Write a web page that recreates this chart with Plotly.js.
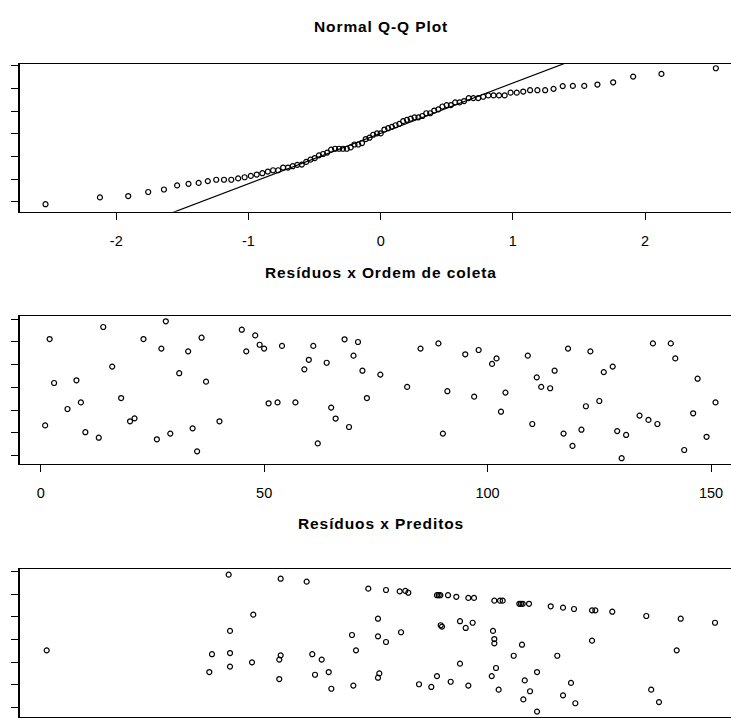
<!DOCTYPE html>
<html><head><meta charset="utf-8">
<script src="https://cdn.plot.ly/plotly-3.0.1.min.js"></script>
<style>
html,body{margin:0;padding:0;overflow:hidden;background:#fff;width:731px;height:718px}
#plot{width:760px;height:760px;position:absolute;left:0;top:0}
.annotation-text{letter-spacing:0.9px}
</style>
</head><body><div id="plot"></div><script>
// ---- data ----
const ordem = [1,2,3,6,8,9,10,13,14,16,18,20,21,23,26,27,28,29,31,33,34,35,36,37,40,45,46,48,49,50,51,53,54,57,59,60,61,62,64,65,66,68,69,70,71,72,73,76,82,85,89,90,91,95,97,98,101,102,103,104,109,110,111,112,114,115,117,118,119,121,122,123,125,126,128,129,130,131,134,136,137,138,141,142,144,146,147,149,151];
const residuos = [-1.67,2.12,0.19,-0.95,0.31,-0.66,-1.97,-2.21,2.65,0.91,-0.47,-1.49,-1.36,2.12,-2.28,1.70,2.90,-2.03,0.62,1.58,-1.80,-2.81,2.18,0.25,-1.49,2.53,1.58,2.28,1.87,1.70,-0.70,-0.66,1.82,-0.66,0.79,1.21,1.82,-2.46,1.08,-0.89,-1.37,2.11,-1.74,1.39,1.99,0.73,-0.47,0.56,0.02,1.70,1.93,-2.03,-0.17,1.45,-0.41,1.64,1.03,1.27,-1.07,-0.23,1.39,-1.61,0.44,0.02,-0.04,0.73,-2.03,1.70,-2.57,-1.86,-0.83,1.58,-0.60,0.67,0.91,-1.92,-3.11,-2.09,-1.24,-1.43,1.93,-1.61,1.93,1.27,-2.75,-1.14,0.38,-2.17,-0.66];
const preditos = [0.0,27.23,27.43,24.73,27.43,27.43,24.33,30.72,30.91,34.80,35.01,34.80,35.01,38.90,39.74,40.15,41.15,42.20,42.59,45.68,46.28,45.88,48.12,49.57,49.57,49.77,49.57,50.77,50.77,52.82,53.66,54.11,53.02,55.71,57.55,58.40,58.66,58.90,60.05,61.29,58.96,59.15,58.40,60.45,61.84,62.70,63.74,63.09,63.94,61.84,63.09,66.59,66.98,67.83,68.23,70.72,70.97,71.22,72.17,75.42,77.26,78.90,81.60,82.09,84.63,89.72,94.87,100.0,66.78,66.98,66.98,71.12,81.60,69.88,76.40,94.27,67.23,73.37,71.53,78.45,67.63,72.32,77.26,71.32,79.10,73.37,90.45,91.62];
const residuosPreditos = [-0.48,2.87,0.38,-0.65,-0.60,-1.20,-1.44,-1.01,1.10,-0.89,-0.70,-1.75,2.69,2.56,-0.65,-1.56,-0.89,-1.44,-2.18,0.20,-0.48,-2.04,2.25,0.92,0.14,-1.50,-1.69,2.19,-0.11,2.13,2.15,2.07,0.32,-1.98,-2.10,1.96,1.96,1.96,1.96,1.89,0.63,0.57,-1.62,-1.87,0.81,0.51,0.74,1.84,1.84,-1.07,-2.04,-1.62,1.72,1.72,1.72,1.58,1.58,1.58,1.58,1.47,1.41,1.35,1.29,1.29,1.23,1.04,0.92,0.74,0.38,0.02,-0.17,-0.23,-0.05,-0.72,-0.72,-0.48,-1.26,-1.44,-1.81,-1.92,-2.22,-2.29,-2.47,-2.65,-2.82,-3.19,-2.22,-2.77];
const qqLineIntercept = 0.02;
const qqLineSlope = 2.225;
const qqTickVals = [-2,-1,0,1,2];
const qqTickText = ["-2","-1","0","1","2"];
const ordemTickVals = [0,50,100,150];
const ordemTickText = ["0","50","100","150"];
const yTickVals = [-3,-2,-1,0,1,2,3];
const titulos = ["Normal Q-Q Plot","Resíduos x Ordem de coleta","Resíduos x Preditos"];

// theoretical normal quantiles (qqnorm)
function qnorm(p){
  const a=[-3.969683028665376e+01,2.209460984245205e+02,-2.759285104469687e+02,1.383577518672690e+02,-3.066479806614716e+01,2.506628277459239e+00];
  const b=[-5.447609879822406e+01,1.615858368580409e+02,-1.556989798598866e+02,6.680131188771972e+01,-1.328068155288572e+01];
  const c=[-7.784894002430293e-03,-3.223964580411365e-01,-2.400758277161838e+00,-2.549732539343734e+00,4.374664141464968e+00,2.938163982698783e+00];
  const d=[7.784695709041462e-03,3.224671290700398e-01,2.445134137142996e+00,3.754408661907416e+00];
  const pl=0.02425, ph=1-pl; let q,r;
  if(p<pl){q=Math.sqrt(-2*Math.log(p));return (((((c[0]*q+c[1])*q+c[2])*q+c[3])*q+c[4])*q+c[5])/((((d[0]*q+d[1])*q+d[2])*q+d[3])*q+1);}
  if(p>ph){q=Math.sqrt(-2*Math.log(1-p));return -(((((c[0]*q+c[1])*q+c[2])*q+c[3])*q+c[4])*q+c[5])/((((d[0]*q+d[1])*q+d[2])*q+d[3])*q+1);}
  q=p-0.5;r=q*q;return (((((a[0]*r+a[1])*r+a[2])*r+a[3])*r+a[4])*r+a[5])*q/(((((b[0]*r+b[1])*r+b[2])*r+b[3])*r+b[4])*r+1);
}
const n = residuos.length;
const sorted = residuos.slice().sort((u,v)=>u-v);
const teor = sorted.map((_,i)=>qnorm((i+1-0.5)/n));
const lineX = [-3,3];
const lineY = lineX.map(x=>qqLineIntercept+qqLineSlope*x);

const W=760,H=760;
const fy = px => 1 - px/H;
const xdom = [19.5/W, 742/W];
const FONT = 'Liberation Sans, Arial, sans-serif';
const mk = {symbol:'circle-open', size:5, color:'#000', line:{width:1.2,color:'#000'}};

const traces = [
  {x:teor, y:sorted, type:'scatter', mode:'markers', marker:mk, xaxis:'x', yaxis:'y', hoverinfo:'skip'},
  {x:lineX, y:lineY, type:'scatter', mode:'lines', line:{color:'#000',width:1.2}, xaxis:'x', yaxis:'y', hoverinfo:'skip'},
  {x:ordem, y:residuos, type:'scatter', mode:'markers', marker:mk, xaxis:'x2', yaxis:'y2', hoverinfo:'skip'},
  {x:preditos, y:residuosPreditos, type:'scatter', mode:'markers', marker:mk, xaxis:'x3', yaxis:'y3', hoverinfo:'skip'}
];

function ax(extra){
  return Object.assign({
    showgrid:false, zeroline:false, showline:true, mirror:true, linecolor:'#000', linewidth:1.2,
    ticks:'outside', ticklen:7.5, tickwidth:1, tickcolor:'#000',
    tickfont:{family:FONT,size:14.5,color:'#000'}, fixedrange:true
  }, extra);
}

const layout = {
  width:W, height:H, margin:{l:0,r:0,t:0,b:0}, paper_bgcolor:'#fff', plot_bgcolor:'#fff',
  showlegend:false,
  xaxis: ax({domain:xdom, anchor:'y', range:[-2.732,2.733], tickmode:'array', tickvals:qqTickVals, ticktext:qqTickText, ticklabelstandoff:8}),
  yaxis: ax({domain:[fy(211.7),fy(64)], anchor:'x', range:[-3.442,3.088], tickmode:'array', tickvals:yTickVals, showticklabels:false}),
  xaxis2: ax({domain:xdom, anchor:'y2', range:[-4.74,156.93], tickmode:'array', tickvals:ordemTickVals, ticktext:ordemTickText, ticklabelstandoff:8}),
  yaxis2: ax({domain:[fy(463.7),fy(316)], anchor:'x2', range:[-3.352,3.132], tickmode:'array', tickvals:yTickVals, showticklabels:false}),
  xaxis3: ax({domain:xdom, anchor:'y3', range:[-4.07,104.04], ticks:'', showticklabels:false}),
  yaxis3: ax({domain:[fy(717),fy(569.3)], anchor:'x3', range:[-3.429,3.106], tickmode:'array', tickvals:yTickVals, showticklabels:false}),
  annotations: titulos.map((t,i)=>({
    text:'<b>'+t+'</b>', x:381/W, y:fy([27,273,523][i]), xref:'paper', yref:'paper',
    xanchor:'center', yanchor:'middle', showarrow:false, font:{family:FONT,size:15.5,color:'#000'}
  }))
};
Plotly.newPlot('plot', traces, layout, {staticPlot:true, displayModeBar:false});
</script></body></html>
